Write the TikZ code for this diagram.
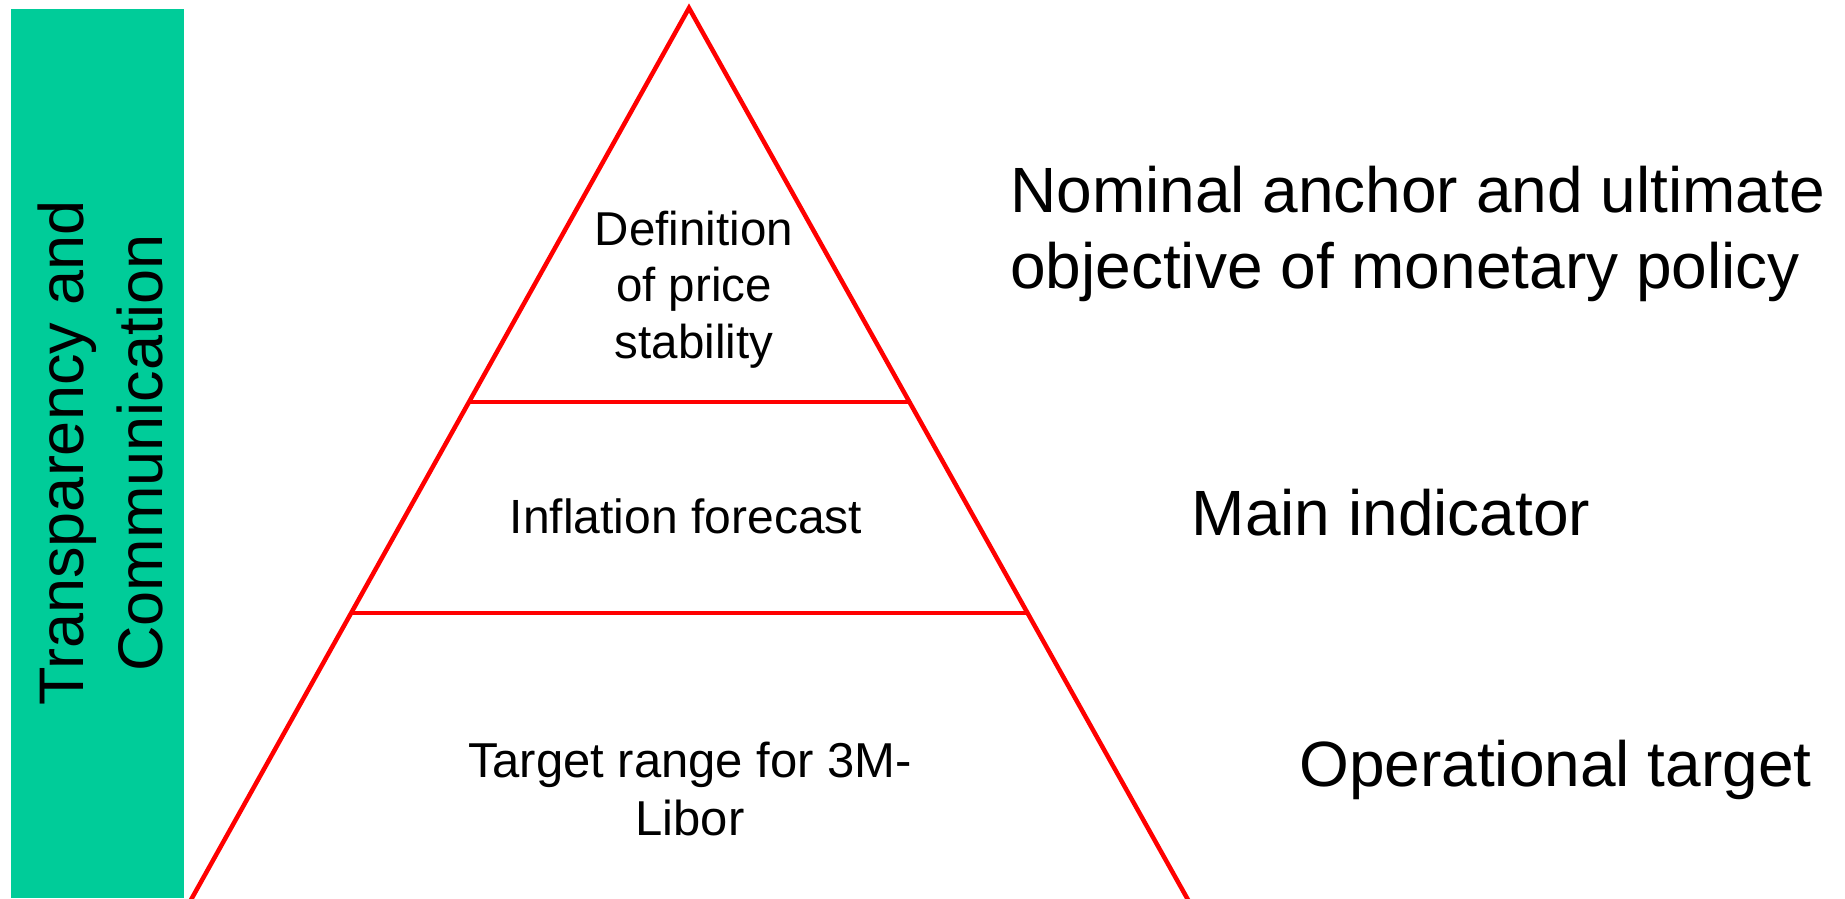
\documentclass[tikz,border=0pt]{standalone}
\usepackage{fontspec}
\setmainfont{Liberation Sans}
\usetikzlibrary{calc}

\definecolor{barGreen}{RGB}{0,204,153}
\definecolor{lineRed}{RGB}{255,0,0}

\tikzset{
    pyramid/.style={draw=lineRed, line width=4.5pt},
    level/.style={inner sep=0pt, align=center, font=\fontsize{47.5}{56.5}\selectfont},
    role/.style={inner sep=0pt, align=left, font=\fontsize{64}{76}\selectfont},
    sidebar/.style={fill=barGreen, draw=none, inner sep=0pt, anchor=north west}
}

\begin{document}
\begin{tikzpicture}[x=1pt, y=-1pt]
    \useasboundingbox (0,0) rectangle (1845,898);

    % green bar on the left
    \node[sidebar, minimum width=173pt, minimum height=889pt] (bar) at (11,9) {};
    \node[inner sep=0pt, rotate=90, align=center, font=\fontsize{63}{79}\selectfont]
        (side) at (100.5,453) {Transparency and\\Communication};

    % pyramid
    \coordinate (top) at (689,8);
    \coordinate (bl) at (192,898);
    \coordinate (br) at (1187,898);
    \coordinate (l1) at ($(top)!0.4427!(bl)$);
    \coordinate (r1) at ($(top)!0.4427!(br)$);
    \coordinate (l2) at ($(top)!0.6798!(bl)$);
    \coordinate (r2) at ($(top)!0.6798!(br)$);
    \draw[pyramid] ($(top)!1.02!(bl)$) -- (top) -- ($(top)!1.02!(br)$);
    \draw[pyramid] (l1) -- (r1);
    \draw[pyramid] (l2) -- (r2);

    \node[level] (def) at (694,289.5) {Definition\\of price\\stability};
    \node[level, anchor=base, font=\fontsize{48}{56}\selectfont] (infl) at (686,533) {Inflation forecast};
    \node[level, font=\fontsize{49}{58}\selectfont] (libor) at (690,789) {Target range for 3M-\\Libor};

    % what each level stands for
    \node[role, anchor=west] (anchor) at (1010,234) {Nominal anchor and ultimate\\objective of monetary policy};
    \node[role, anchor=base] (main) at (1391,535) {Main indicator};
    \node[role, anchor=base west] (oper) at (1299,786) {Operational target};
\end{tikzpicture}
\end{document}
